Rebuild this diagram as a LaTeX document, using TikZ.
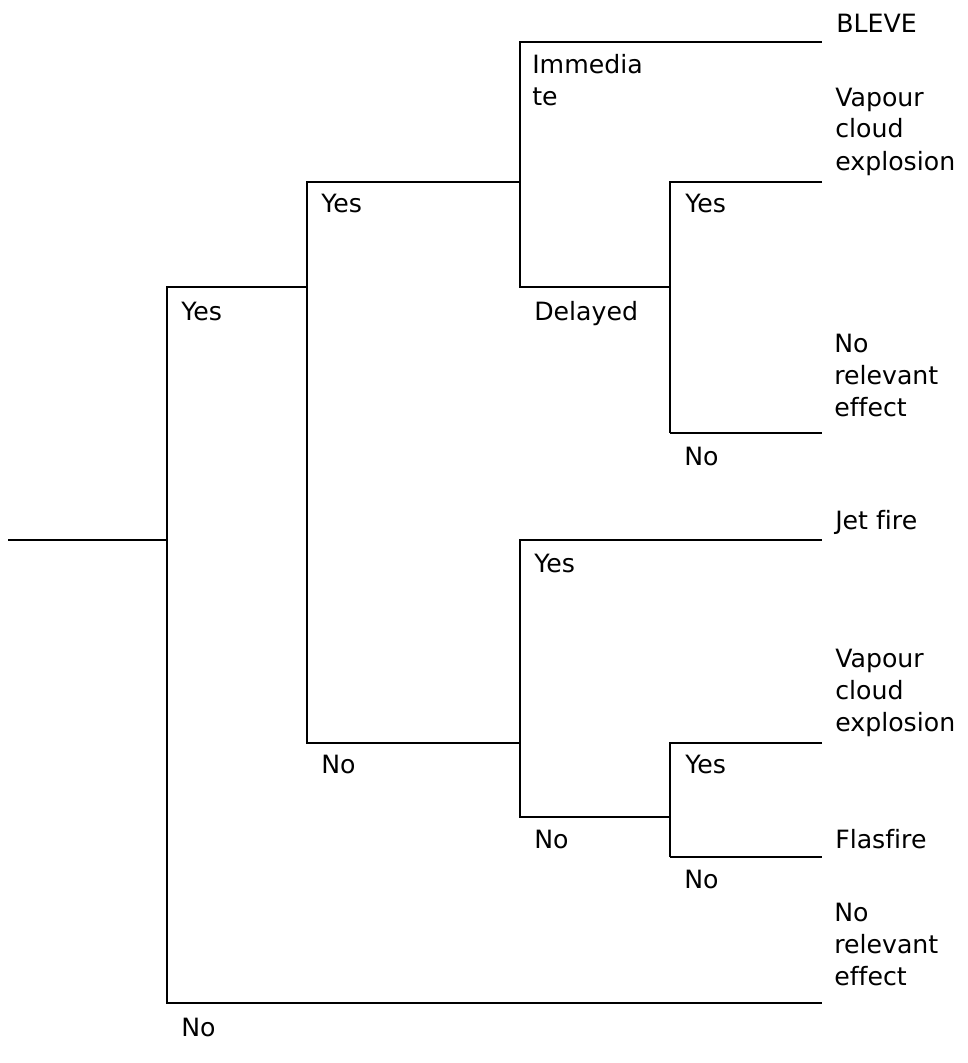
\documentclass[tikz,border=0pt]{standalone}
\usepackage{fontspec}
\setmainfont[Ligatures=NoCommon]{DejaVu Sans}
% multi-line label, baseline on its first line
\newcommand{\lblstack}[1]{\begin{tabular}[t]{@{}l@{}}#1\end{tabular}}
\begin{document}
\begin{tikzpicture}[x=0.75pt,y=-0.75pt,
  branch/.style={line width=1.6pt,line join=miter},
  tail/.style={line width=1.1pt},
  lbl/.style={anchor=base west,inner sep=0pt,font=\fontsize{18.9}{24}\selectfont}]
\useasboundingbox (0,0) rectangle (967,1063);

% decision points and branch ends
\coordinate (start) at (8,540);
\coordinate (d1) at (167,540);
\coordinate (d1y) at (167,287);
\coordinate (d1n) at (167,1003);
\coordinate (d2) at (307,287);
\coordinate (d2y) at (307,182);
\coordinate (d2n) at (307,743);
\coordinate (d3) at (520,182);
\coordinate (d3i) at (520,42);
\coordinate (d3d) at (520,287);
\coordinate (d4) at (670,287);
\coordinate (d4y) at (670,182);
\coordinate (d4n) at (670,433);
\coordinate (d5) at (520,743);
\coordinate (d5y) at (520,540);
\coordinate (d5n) at (520,817);
\coordinate (d6) at (670,817);
\coordinate (d6y) at (670,743);
\coordinate (d6n) at (670,857);
\coordinate (k1) at (670,1003);
\coordinate (k2) at (670,42);
\coordinate (k5) at (670,540);
\coordinate (t1) at (822,1003);
\coordinate (t2) at (822,42);
\coordinate (t3) at (822,182);
\coordinate (t4) at (822,433);
\coordinate (t5) at (822,540);
\coordinate (t6) at (822,743);
\coordinate (t7) at (822,857);

% tree lines
\draw[branch] (start) -- (d1);
\draw[branch] (d2) -- (d1y) -- (d1n) -- (k1);
\draw[tail] (k1) -- (t1);
\draw[branch] (d3) -- (d2y) -- (d2n) -- (d5);
\draw[branch] (k2) -- (d3i) -- (d3d) -- (d4);
\draw[tail] (k2) -- (t2);
\draw[branch] (t3) -- (d4y) -- (d4n);
\draw[tail] (d4n) -- (t4);
\draw[branch] (k5) -- (d5y) -- (d5n) -- (d6);
\draw[tail] (k5) -- (t5);
\draw[branch] (t6) -- (d6y) -- (d6n);
\draw[tail] (d6n) -- (t7);

% branch labels
\node[lbl] (l1y) at (181,320) {Yes};
\node[lbl] (l1n) at (181,1036) {No};
\node[lbl] (l2y) at (321,212) {Yes};
\node[lbl] (l2n) at (321,773) {No};
\node[lbl] (l3i) at (532,74) {\lblstack{Immedia\\te}};
\node[lbl] (l3d) at (534,320) {Delayed};
\node[lbl] (l5y) at (534,572) {Yes};
\node[lbl] (l5n) at (534,848) {No};
\node[lbl] (l4y) at (685,212) {Yes};
\node[lbl] (l4n) at (684,465) {No};
\node[lbl] (l6y) at (685,773) {Yes};
\node[lbl] (l6n) at (684,888) {No};

% outcomes
\node[lbl] (o1) at (836,33) {BLEVE};
\node[lbl] (o2) at (835,106) {\lblstack{Vapour\\cloud\\explosion}};
\node[lbl] (o3) at (834,352) {\lblstack{No\\relevant\\effect}};
\node[lbl] (o4) at (835,529) {Jet fire};
\node[lbl] (o5) at (835,667) {\lblstack{Vapour\\cloud\\explosion}};
\node[lbl] (o6) at (835,848) {Flasfire};
\node[lbl] (o7) at (834,921) {\lblstack{No\\relevant\\effect}};
\end{tikzpicture}
\end{document}
